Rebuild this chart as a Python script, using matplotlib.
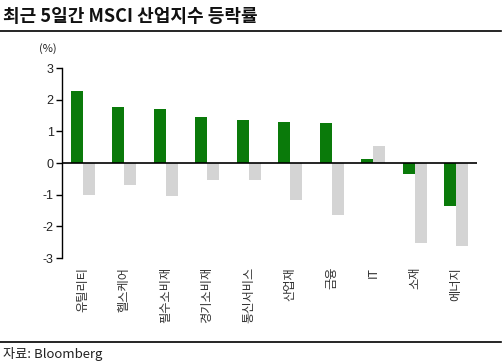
import numpy as np
import matplotlib
matplotlib.use('Agg')
import matplotlib.pyplot as plt
from matplotlib.lines import Line2D

plt.rcParams['font.family'] = ['Noto Sans CJK KR', 'DejaVu Sans']

categories = ['유틸리티', '헬스케어', '필수소비재', '경기소비재', '통신서비스',
              '산업재', '금융', 'IT', '소재', '에너지']
green_vals = [2.28, 1.78, 1.72, 1.46, 1.37, 1.30, 1.27, 0.13, -0.33, -1.34]
gray_vals = [-1.02, -0.68, -1.03, -0.53, -0.53, -1.17, -1.65, 0.54, -2.53, -2.62]
yticks = [-3, -2, -1, 0, 1, 2, 3]

fig = plt.figure(figsize=(5.04, 3.64), dpi=100)
ax = fig.add_axes([0.123, 0.291, 0.823, 0.522])

x = np.arange(len(categories))
w = 0.29
ax.bar(x - w / 2, green_vals, w, color='#0a7a0a')
ax.bar(x + w / 2, gray_vals, w, color='#d4d4d4')
ax.axhline(0, color='black', lw=1.2)

ax.set_xlim(-0.5, len(categories) - 0.5)
ax.set_ylim(-3, 3)
ax.set_yticks(yticks)
ax.set_yticklabels([str(v) for v in yticks], fontsize=9, color='#222222',
                   family=['Liberation Sans', 'DejaVu Sans'])
ax.tick_params(axis='y', direction='out', length=4, width=1, pad=2)
ax.set_xticks([])
for s in ['top', 'right', 'bottom']:
    ax.spines[s].set_visible(False)
ax.spines['left'].set_linewidth(1)

for i, c in enumerate(categories):
    ax.text(i, -3.28, c, rotation=90, ha='center', va='top', fontsize=8.8,
            color='#333333', rotation_mode='default')

fig.text(0.006, 0.955, '최근 5일간 MSCI 산업지수 등락률', fontsize=13,
         fontweight='bold', ha='left', va='center', color='#111111')
fig.add_artist(Line2D([0.0, 0.995], [0.915, 0.915], color='black', lw=1.2))
fig.text(0.078, 0.868, '(%)', fontsize=8, ha='left', va='center', color='#222222')
fig.add_artist(Line2D([0.0, 0.995], [0.06, 0.06], color='black', lw=1.2))
fig.text(0.006, 0.028, '자료: Bloomberg', fontsize=9.5, ha='left', va='center',
         color='#222222')

fig.savefig('out.png', dpi=100)
